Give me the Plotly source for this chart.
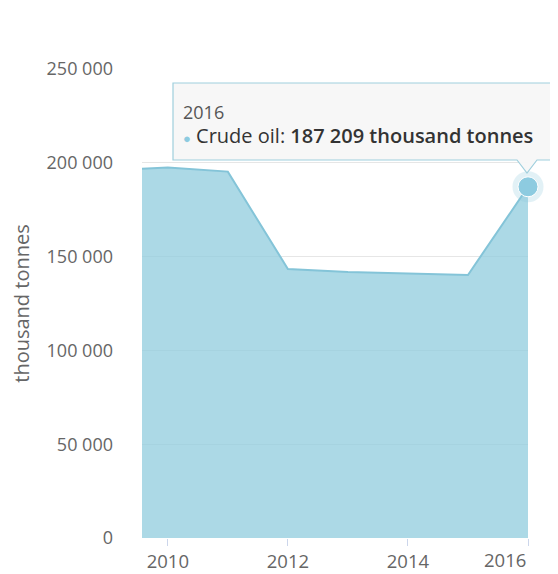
import plotly.graph_objects as go

years = [2009, 2010, 2011, 2012, 2013, 2014, 2015, 2016]
crude_oil = [196000, 197500, 195300, 143400, 141800, 141000, 140200, 187209]
series_name = "Crude oil"
unit = "thousand tonnes"
y_ticks = [0, 50000, 100000, 150000, 200000, 250000]
x_ticks = [2010, 2012, 2014, 2016]

FONT = "Open Sans"
fig = go.Figure()
fig.add_trace(go.Scatter(
    x=years, y=crude_oil, mode="lines", fill="tozeroy",
    line=dict(color="rgba(132,196,216,1)", width=2),
    fillcolor="rgba(144,204,222,0.75)", hoverinfo="skip", showlegend=False))
# highlighted last point with halo
fig.add_trace(go.Scatter(
    x=[years[-1]], y=[crude_oil[-1]], mode="markers",
    marker=dict(size=31, color="rgba(140,200,220,0.25)", line=dict(width=0)),
    hoverinfo="skip", showlegend=False, cliponaxis=False))
fig.add_trace(go.Scatter(
    x=[years[-1]], y=[crude_oil[-1]], mode="markers",
    marker=dict(size=20, color="#8dcbe0", line=dict(width=1, color="white")),
    hoverinfo="skip", showlegend=False, cliponaxis=False))

# tooltip box (paper coords; plot area spans image px 142..528 x, 69..538 y)
def px(x):
    return (x - 142) / 386.0
def py(y):
    return (538 - y) / 469.0

L, R, T, B = 173, 557, 83, 160
tipx, tipy = 527, 173
path = (f"M {px(L)},{py(T)} L {px(R)},{py(T)} L {px(R)},{py(B)} "
        f"L {px(537)},{py(B)} L {px(tipx)},{py(tipy)} L {px(517)},{py(B)} "
        f"L {px(L)},{py(B)} Z")
fig.add_shape(type="path", path=path, xref="paper", yref="paper",
              fillcolor="rgba(247,247,247,0.95)", line=dict(color="#9fcfdd", width=1.2))

fig.add_annotation(x=px(181), y=py(112), xref="paper", yref="paper",
                   text=str(years[-1]), showarrow=False, xanchor="left", yanchor="middle",
                   font=dict(family=FONT, size=18, color="#555555"))
val = f"{crude_oil[-1]:,}".replace(",", " ")
fig.add_annotation(x=px(181), y=py(135), xref="paper", yref="paper",
                   text=(f"<span style='color:#8dcbe0;font-size:13px'>●</span> {series_name}: "
                         f"<span style='font-weight:600'>{val} {unit}</span>"),
                   showarrow=False, xanchor="left", yanchor="middle",
                   font=dict(family=FONT, size=20, color="#333333"))

# last x tick label kept inside the chart (right-aligned at its tick)
fig.add_annotation(x=x_ticks[-1], y=0, xref="x", yref="paper", yshift=-21,
                   text=str(x_ticks[-1]), showarrow=False, xanchor="right", yanchor="middle",
                   font=dict(family=FONT, size=18.5, color="#666666"))

fig.update_layout(
    width=550, height=566,
    margin=dict(l=134, r=30, t=61, b=36, autoexpand=False),
    paper_bgcolor="white", plot_bgcolor="white",
    separators=". ",
    font=dict(family=FONT, color="#666666"),
    xaxis=dict(range=[2009.57, 2016], tickvals=x_ticks,
               ticktext=[str(v) for v in x_ticks[:-1]] + [""],
               showgrid=False, zeroline=False, ticks="outside", ticklen=7,
               tickcolor="#ccd6eb", showline=False, automargin=False,
               tickfont=dict(family=FONT, size=18.5, color="#666666")),
    yaxis=dict(range=[0, 250000], tickvals=y_ticks, tickformat=",d",
               showgrid=True, gridcolor="#e6e6e6", gridwidth=1, zeroline=False,
               ticks="", ticklabelstandoff=28, automargin=False,
               tickfont=dict(family=FONT, size=18, color="#666666"),
               title=dict(text=unit, font=dict(family=FONT, size=20, color="#666666"), standoff=12)),
)
fig.write_html("out.html")
